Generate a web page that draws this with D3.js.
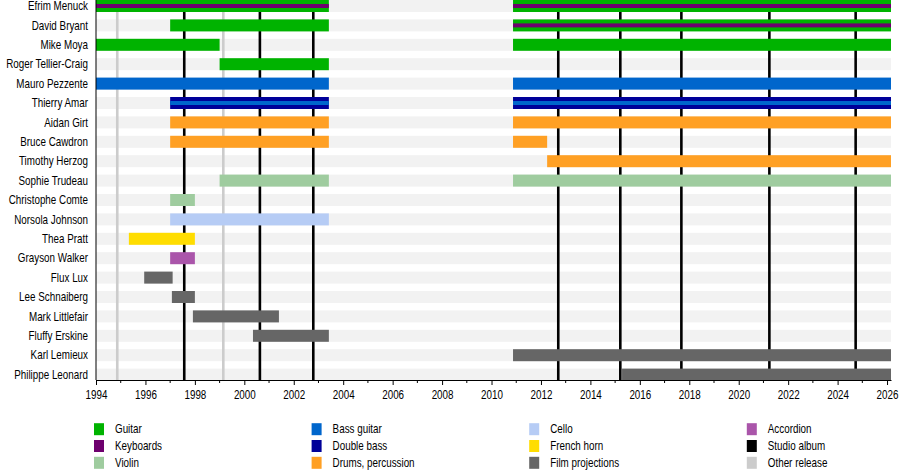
<!DOCTYPE html>
<html>
<head>
<meta charset="utf-8">
<script src="https://cdn.jsdelivr.net/npm/d3@7"></script>
<style>
  body { margin: 0; background: #fff; }
  svg text { font-family: "Liberation Sans Narrow", "Arial Narrow", "Liberation Sans", Arial, sans-serif; font-size: 12px; fill: #000; }
</style>
</head>
<body>
<svg id="chart" width="900" height="475"></svg>
<script>
// band members, top to bottom
const members = [
  "Efrim Menuck", "David Bryant", "Mike Moya", "Roger Tellier-Craig", "Mauro Pezzente",
  "Thierry Amar", "Aidan Girt", "Bruce Cawdron", "Timothy Herzog", "Sophie Trudeau",
  "Christophe Comte", "Norsola Johnson", "Thea Pratt", "Grayson Walker", "Flux Lux",
  "Lee Schnaiberg", "Mark Littlefair", "Fluffy Erskine", "Karl Lemieux", "Philippe Leonard"
];

const periodStart = 1994;
const periodEnd = 2026.16; // "till:end"
const axisYears = d3.range(1994, 2027);

// legend entries, column by column
const roles = [
  "Guitar", "Keyboards", "Violin",
  "Bass guitar", "Double bass", "Drums, percussion",
  "Cello", "French horn", "Film projections",
  "Accordion", "Studio album", "Other release"
];
const roleColors = [
  "#00b300", "#6e006e", "#9fcc9f",
  "#0066cc", "#000099", "#ffa024",
  "#b6ccf5", "#ffdd00", "#666666",
  "#aa55aa", "#000000", "#cccccc"
];

// [member, role, from, till]
const spans = [
  ["Efrim Menuck", "Guitar", 1994, 2003.42],
  ["Efrim Menuck", "Guitar", 2010.87, periodEnd],
  ["David Bryant", "Guitar", 1997, 2003.42],
  ["David Bryant", "Guitar", 2010.87, periodEnd],
  ["Mike Moya", "Guitar", 1994, 1999],
  ["Mike Moya", "Guitar", 2010.87, periodEnd],
  ["Roger Tellier-Craig", "Guitar", 1999, 2003.42],
  ["Mauro Pezzente", "Bass guitar", 1994, 2003.42],
  ["Mauro Pezzente", "Bass guitar", 2010.87, periodEnd],
  ["Thierry Amar", "Double bass", 1997, 2003.42],
  ["Thierry Amar", "Double bass", 2010.87, periodEnd],
  ["Aidan Girt", "Drums, percussion", 1997, 2003.42],
  ["Aidan Girt", "Drums, percussion", 2010.87, periodEnd],
  ["Bruce Cawdron", "Drums, percussion", 1997, 2003.42],
  ["Bruce Cawdron", "Drums, percussion", 2010.87, 2012.25],
  ["Timothy Herzog", "Drums, percussion", 2012.25, periodEnd],
  ["Sophie Trudeau", "Violin", 1999, 2003.42],
  ["Sophie Trudeau", "Violin", 2010.87, periodEnd],
  ["Christophe Comte", "Violin", 1997, 1998],
  ["Norsola Johnson", "Cello", 1997, 2003.42],
  ["Thea Pratt", "French horn", 1995.33, 1998],
  ["Grayson Walker", "Accordion", 1997, 1998],
  ["Flux Lux", "Film projections", 1995.95, 1997.1],
  ["Lee Schnaiberg", "Film projections", 1997.07, 1998],
  ["Mark Littlefair", "Film projections", 1997.92, 2001.4],
  ["Fluffy Erskine", "Film projections", 2000.35, 2003.42],
  ["Karl Lemieux", "Film projections", 2010.87, periodEnd],
  ["Philippe Leonard", "Film projections", 2015.28, periodEnd]
];

// thin secondary-role stripes drawn over the main bar
const overlays = [
  ["Efrim Menuck", "Keyboards", 1994, 2003.42],
  ["Efrim Menuck", "Keyboards", 2010.87, periodEnd],
  ["David Bryant", "Keyboards", 2010.87, periodEnd],
  ["Thierry Amar", "Bass guitar", 1997, 2003.42],
  ["Thierry Amar", "Bass guitar", 2010.87, periodEnd]
];

const studioAlbums = [1997.57, 2000.63, 2002.79, 2012.7, 2015.21, 2017.68, 2021.24, 2024.73];
const otherReleases = [1994.86, 1999.15];

const svg = d3.select("#chart");
const color = d3.scaleOrdinal(roles, roleColors);
const narrow = "scale(0.82,1)"; // no narrow font installed, squeeze the sans instead

const x = d3.scaleLinear().domain([periodStart, periodEnd]).range([96, 891]);
const y = d3.scalePoint().domain(members).range([6, 374.6]);
const barH = 12;
const axisY = 380;

// background stripes
svg.append("g")
  .selectAll("rect")
  .data(members)
  .join("rect")
  .attr("x", x(periodStart))
  .attr("width", x(periodEnd) - x(periodStart))
  .attr("y", (d) => y(d) - barH / 2)
  .attr("height", barH)
  .attr("fill", "#f2f2f2");

// release lines
const lines = svg.append("g");
lines.selectAll(".other")
  .data(otherReleases)
  .join("line")
  .attr("x1", (d) => x(d)).attr("x2", (d) => x(d))
  .attr("y1", 0).attr("y2", axisY)
  .attr("stroke", color("Other release"))
  .attr("stroke-width", 2.6);
lines.selectAll(".studio")
  .data(studioAlbums)
  .join("line")
  .attr("x1", (d) => x(d)).attr("x2", (d) => x(d))
  .attr("y1", 0).attr("y2", axisY)
  .attr("stroke", color("Studio album"))
  .attr("stroke-width", 2.6);

// member bars
svg.append("g")
  .selectAll("rect")
  .data(spans)
  .join("rect")
  .attr("x", (d) => x(d[2]))
  .attr("width", (d) => x(d[3]) - x(d[2]))
  .attr("y", (d) => y(d[0]) - barH / 2)
  .attr("height", barH)
  .attr("fill", (d) => color(d[1]));

svg.append("g")
  .selectAll("rect")
  .data(overlays)
  .join("rect")
  .attr("x", (d) => x(d[2]))
  .attr("width", (d) => x(d[3]) - x(d[2]))
  .attr("y", (d) => y(d[0]) - 2)
  .attr("height", 4)
  .attr("fill", (d) => color(d[1]));

// member names
svg.append("g")
  .selectAll("text")
  .data(members)
  .join("text")
  .attr("transform", (d) => `translate(88,${y(d)}) ${narrow}`)
  .attr("dy", "0.35em")
  .attr("text-anchor", "end")
  .text((d) => d);

// axes
svg.append("line")
  .attr("x1", 96).attr("x2", 96)
  .attr("y1", 0).attr("y2", axisY)
  .attr("stroke", "#000");

const xAxis = d3.axisBottom(x)
  .tickValues(axisYears.filter((d) => d % 2 === 0))
  .tickFormat(d3.format("d"))
  .tickSize(5)
  .tickSizeOuter(0)
  .tickPadding(5);
const gx = svg.append("g")
  .attr("transform", `translate(0,${axisY})`)
  .call(xAxis);
gx.attr("font-family", null).attr("font-size", null);
gx.selectAll(".tick text").attr("transform", narrow);

gx.selectAll(".minor")
  .data(axisYears.filter((d) => d % 2 === 1))
  .join("line")
  .attr("class", "minor")
  .attr("x1", (d) => x(d)).attr("x2", (d) => x(d))
  .attr("y1", 0).attr("y2", 3)
  .attr("stroke", "#000");

// legend
const legend = svg.append("g")
  .selectAll("g")
  .data(roles)
  .join("g")
  .attr("transform", (d, i) => `translate(${94 + Math.floor(i / 3) * 217.6},${429.2 + (i % 3) * 16.8})`);
legend.append("rect")
  .attr("x", 0).attr("y", -6)
  .attr("width", 10).attr("height", 12)
  .attr("fill", (d) => color(d));
legend.append("text")
  .attr("transform", `translate(21,0) ${narrow}`)
  .attr("dy", "0.35em")
  .text((d) => d);
</script>
</body>
</html>
